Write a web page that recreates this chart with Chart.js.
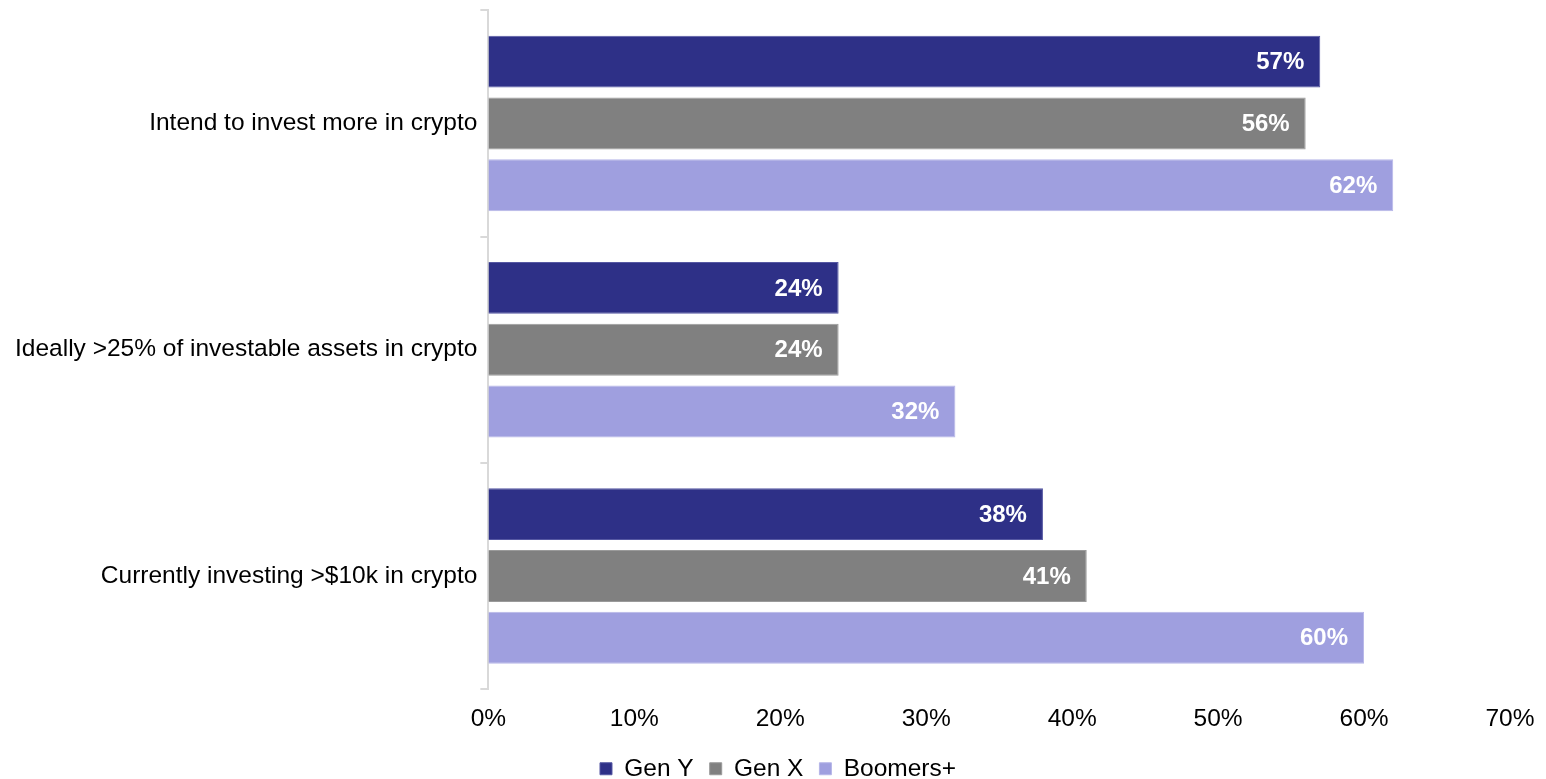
<!DOCTYPE html>
<html>
<head>
<meta charset="utf-8">
<script src="https://cdn.jsdelivr.net/npm/chart.js@4/dist/chart.umd.min.js"></script>
<style>
  html, body { margin: 0; padding: 0; background: #ffffff; }
  #wrap { width: 1546px; height: 779px; }
</style>
</head>
<body>
<div id="wrap"><canvas id="cryptoChart" width="1546" height="779"></canvas></div>
<script>
// categories and series values (percent)
const categories = [
  "Intend to invest more in crypto",
  "Ideally >25% of investable assets in crypto",
  "Currently investing >$10k in crypto"
];
const genY = [57, 24, 38];
const genX = [56, 24, 41];
const boomers = [62, 32, 60];
const xTicks = [0, 10, 20, 30, 40, 50, 60, 70];

const FONT = "'Liberation Sans', Arial, sans-serif";
const FONT_SIZE = 24.5;

// white bold value labels at the inner end of each bar
const barValueLabels = {
  id: 'barValueLabels',
  afterDatasetsDraw(chart) {
    const ctx = chart.ctx;
    ctx.save();
    ctx.font = "bold 24px " + FONT;
    ctx.fillStyle = "#ffffff";
    ctx.textAlign = "right";
    ctx.textBaseline = "middle";
    chart.data.datasets.forEach((ds, i) => {
      const meta = chart.getDatasetMeta(i);
      meta.data.forEach((bar, j) => {
        ctx.fillText(ds.data[j] + "%", bar.x - 16, bar.y + 1);
      });
    });
    ctx.restore();
  }
};

// nudge the legend a bit to the right of the canvas centre
const legendShift = {
  id: 'legendShift',
  afterLayout(chart) {
    if (chart.legend) {
      chart.legend.left += 17;
      chart.legend.right += 17;
    }
  }
};

new Chart(document.getElementById('cryptoChart'), {
  type: 'bar',
  data: {
    labels: categories,
    datasets: [
      { label: 'Gen Y', data: genY, backgroundColor: '#2e3087', borderColor: '#5658a3', borderWidth: 1 },
      { label: 'Gen X', data: genX, backgroundColor: '#808080', borderColor: '#9a9a9a', borderWidth: 1 },
      { label: 'Boomers+', data: boomers, backgroundColor: '#9f9fdf', borderColor: '#b6b6e8', borderWidth: 1 }
    ]
  },
  options: {
    indexAxis: 'y',
    responsive: false,
    animation: false,
    categoryPercentage: 0.82,
    barPercentage: 0.84,
    layout: { padding: { top: 8, left: 12, right: 36, bottom: -12 } },
    plugins: {
      legend: {
        position: 'bottom',
        labels: {
          color: '#000000',
          font: { family: FONT, size: FONT_SIZE },
          boxWidth: 12,
          boxHeight: 12,
          padding: 16
        }
      },
      tooltip: { enabled: false }
    },
    scales: {
      x: {
        min: 0,
        max: 70,
        afterBuildTicks(axis) {
          axis.ticks = xTicks.map(v => ({ value: v }));
        },
        grid: { display: false },
        border: { display: false },
        ticks: {
          color: '#000000',
          font: { family: FONT, size: FONT_SIZE },
          padding: 7,
          callback: v => v + '%'
        }
      },
      y: {
        grid: {
          display: true,
          drawOnChartArea: false,
          drawTicks: true,
          tickLength: 8,
          color: '#d9d9d9',
          lineWidth: 2
        },
        border: { display: true, color: '#d9d9d9', width: 2 },
        ticks: {
          color: '#000000',
          font: { family: FONT, size: FONT_SIZE, lineHeight: 0.6 },
          padding: 3
        }
      }
    }
  },
  plugins: [barValueLabels, legendShift]
});
</script>
</body>
</html>
